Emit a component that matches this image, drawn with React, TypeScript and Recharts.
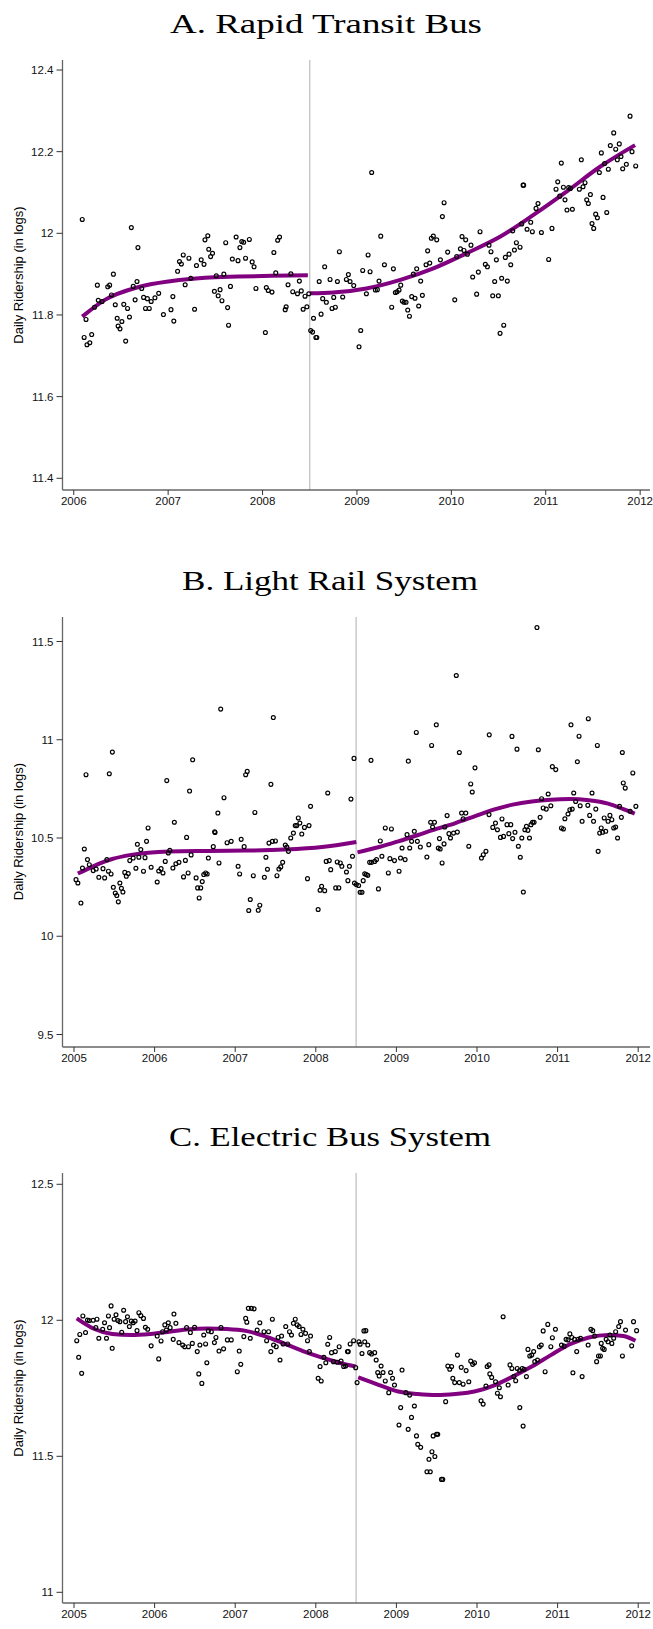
import React from 'react';
import { ComposedChart, XAxis, YAxis, Scatter, Line, ReferenceLine } from 'recharts';

// ---------- Panel A: Rapid Transit Bus ----------
const rapidTransitPoints: [number, number][] = [
  [2006.09,12.034],[2006.13,11.789],[2006.11,11.745],[2006.14,11.727],[2006.17,11.732],[2006.19,11.752],[2006.22,11.819],[2006.25,11.873],[2006.26,11.836],[2006.30,11.833],[2006.36,11.869],[2006.38,11.873],[2006.40,11.849],[2006.42,11.900],[2006.44,11.825],[2006.46,11.792],[2006.47,11.773],[2006.49,11.766],[2006.51,11.784],[2006.53,11.826],[2006.55,11.736],[2006.57,11.816],[2006.59,11.795],[2006.61,12.014],[2006.63,11.870],[2006.65,11.837],[2006.67,11.882],[2006.68,11.965],[2006.72,11.865],[2006.74,11.843],[2006.76,11.816],[2006.78,11.840],[2006.80,11.816],[2006.82,11.833],[2006.86,11.842],[2006.90,11.853],[2006.95,11.801],[2007.03,11.813],[2007.05,11.845],[2007.06,11.785],[2007.10,11.907],[2007.12,11.931],[2007.14,11.925],[2007.16,11.947],[2007.18,11.874],[2007.22,11.939],[2007.24,11.890],[2007.28,11.814],[2007.30,11.921],[2007.35,11.935],[2007.38,11.924],[2007.39,11.984],[2007.42,11.994],[2007.43,11.961],[2007.45,11.943],[2007.47,11.951],[2007.49,11.858],[2007.51,11.896],[2007.53,11.847],[2007.55,11.862],[2007.57,11.835],[2007.59,11.900],[2007.61,11.977],[2007.63,11.818],[2007.64,11.775],[2007.66,11.870],[2007.68,11.937],[2007.72,11.991],[2007.74,11.933],[2007.76,11.965],[2007.78,11.980],[2007.80,11.978],[2007.82,11.939],[2007.86,11.985],[2007.89,11.930],[2007.91,11.918],[2007.93,11.865],[2008.03,11.757],[2008.04,11.867],[2008.06,11.860],[2008.10,11.856],[2008.12,11.953],[2008.14,11.903],[2008.16,11.983],[2008.18,11.991],[2008.24,11.813],[2008.25,11.820],[2008.27,11.874],[2008.30,11.901],[2008.32,11.857],[2008.37,11.852],[2008.39,11.883],[2008.41,11.859],[2008.43,11.814],[2008.45,11.846],[2008.47,11.820],[2008.49,11.852],
  [2008.51,11.762],[2008.53,11.758],[2008.54,11.792],[2008.565,11.745],[2008.575,11.745],[2008.60,11.882],[2008.62,11.802],[2008.637,11.840],[2008.658,11.918],[2008.676,11.831],[2008.715,11.887],[2008.736,11.816],[2008.754,11.843],[2008.771,11.819],[2008.793,11.882],[2008.814,11.955],[2008.849,11.844],[2008.888,11.887],[2008.909,11.899],[2008.927,11.882],[2008.966,11.872],[2009.022,11.722],[2009.040,11.762],[2009.061,11.909],[2009.100,11.852],[2009.118,11.947],[2009.139,11.906],[2009.156,12.149],[2009.195,11.861],[2009.216,11.862],[2009.234,11.883],[2009.252,11.993],[2009.291,11.923],[2009.368,11.819],[2009.386,11.913],[2009.407,11.855],[2009.425,11.857],[2009.446,11.861],[2009.464,11.873],[2009.481,11.834],[2009.499,11.831],[2009.520,11.831],[2009.538,11.812],[2009.556,11.797],[2009.580,11.845],[2009.598,11.900],[2009.615,11.841],[2009.633,11.913],[2009.654,11.822],[2009.675,11.883],[2009.693,11.848],[2009.732,11.923],[2009.749,11.957],[2009.771,11.927],[2009.788,11.988],[2009.809,11.993],[2009.845,11.984],[2009.884,11.935],[2009.905,12.041],[2009.923,12.075],[2009.961,11.954],[2010.036,11.837],[2010.057,11.943],[2010.096,11.962],[2010.113,11.992],[2010.134,11.958],[2010.152,11.984],[2010.170,11.949],[2010.208,11.971],[2010.226,11.893],[2010.268,11.851],[2010.286,11.905],[2010.304,12.004],[2010.360,11.924],[2010.382,11.918],[2010.399,11.971],[2010.420,11.955],[2010.438,11.847],[2010.459,11.882],[2010.477,11.935],[2010.498,11.847],[2010.516,11.755],[2010.533,11.890],[2010.555,11.775],[2010.572,11.941],[2010.593,11.883],[2010.611,11.949],[2010.629,11.923],[2010.650,12.006],[2010.668,11.959],[2010.689,11.977],[2010.728,11.966],[2010.745,12.023],[2010.760,12.118],[2010.766,12.118],[2010.802,12.010],[2010.841,12.027],[2010.858,12.004],[2010.897,12.061],[2010.918,12.073],[2010.954,12.002],[2011.031,11.936],[2011.066,12.012],[2011.109,12.108],[2011.127,12.126],[2011.148,12.091],[2011.165,12.172],[2011.187,12.113],[2011.204,12.082],[2011.225,12.057],[2011.243,12.112],[2011.261,12.110],[2011.282,12.059],[2011.356,12.108],[2011.377,12.180],[2011.395,12.114],[2011.416,12.124],[2011.434,12.082],[2011.451,12.073],[2011.473,12.095],[2011.490,12.024],[2011.508,12.012],[2011.529,12.047],[2011.547,12.038],[2011.568,12.149],[2011.589,12.197],[2011.607,12.088],[2011.624,12.171],[2011.646,12.051],[2011.663,12.157],[2011.684,12.215],[2011.720,12.246],[2011.741,12.206],[2011.758,12.180],[2011.779,12.219],[2011.797,12.188],[2011.815,12.158],[2011.854,12.169],[2011.893,12.287],[2011.914,12.200],[2011.953,12.165],
];
const rapidTransitFitBefore: [number, number][] = [
  [2006.09,11.796],[2006.33,11.837],[2006.68,11.868],[2007.04,11.883],[2007.39,11.891],[2007.74,11.894],[2008.10,11.896],[2008.48,11.897],
];
const rapidTransitFitAfter: [number, number][] = [
  [2008.503,11.853],[2008.75,11.855],[2009.10,11.865],[2009.46,11.886],[2009.81,11.914],[2010.16,11.951],[2010.52,11.992],[2010.87,12.045],[2011.22,12.102],[2011.575,12.163],[2011.946,12.216],
];
const rapidTransitYTicks = [11.4, 11.6, 11.8, 12, 12.2, 12.4];
const rapidTransitXTicks = [2006, 2007, 2008, 2009, 2010, 2011, 2012];

// ---------- Panel B: Light Rail System ----------
const lightRailPoints: [number, number][] = [
  [2005.025,10.288],[2005.048,10.271],[2005.086,10.169],[2005.105,10.347],[2005.128,10.444],[2005.149,10.822],[2005.167,10.390],[2005.19,10.364],[2005.238,10.334],[2005.275,10.342],[2005.308,10.300],[2005.36,10.344],[2005.38,10.297],[2005.408,10.390],[2005.427,10.331],[2005.438,10.827],[2005.46,10.317],[2005.476,10.937],[2005.488,10.249],[2005.512,10.220],[2005.531,10.207],[2005.55,10.175],[2005.569,10.271],[2005.588,10.244],[2005.607,10.225],[2005.63,10.325],[2005.649,10.305],[2005.673,10.319],[2005.692,10.385],[2005.734,10.398],[2005.768,10.346],[2005.786,10.468],[2005.805,10.402],[2005.829,10.441],[2005.862,10.331],[2005.881,10.400],[2005.9,10.483],[2005.919,10.551],[2005.957,10.351],[2006.032,10.276],[2006.051,10.332],[2006.080,10.344],[2006.104,10.322],[2006.132,10.381],[2006.151,10.792],[2006.17,10.424],[2006.189,10.437],[2006.227,10.347],[2006.245,10.580],[2006.264,10.369],[2006.302,10.376],[2006.359,10.302],[2006.382,10.386],[2006.397,10.503],[2006.416,10.322],[2006.434,10.739],[2006.453,10.414],[2006.472,10.898],[2006.515,10.297],[2006.534,10.246],[2006.553,10.195],[2006.572,10.246],[2006.591,10.278],[2006.610,10.314],[2006.633,10.322],[2006.652,10.317],[2006.667,10.398],[2006.728,10.456],[2006.745,10.532],[2006.750,10.528],[2006.785,10.627],[2006.799,10.373],[2006.82,11.156],[2006.861,10.705],[2006.899,10.476],[2006.95,10.483],[2007.036,10.356],[2007.055,10.317],[2007.074,10.493],[2007.111,10.456],[2007.13,10.822],[2007.149,10.839],[2007.168,10.131],[2007.187,10.187],[2007.225,10.308],[2007.244,10.630],[2007.286,10.132],[2007.305,10.158],[2007.362,10.300],[2007.381,10.402],[2007.40,10.341],[2007.419,10.474],[2007.443,10.773],[2007.461,10.483],[2007.473,11.113],[2007.499,10.485],[2007.518,10.308],[2007.542,10.342],[2007.565,10.353],[2007.589,10.376],[2007.622,10.464],[2007.641,10.454],[2007.66,10.432],[2007.689,10.500],[2007.722,10.525],[2007.745,10.563],[2007.764,10.563],[2007.783,10.602],[2007.802,10.576],[2007.826,10.520],[2007.859,10.554],[2007.897,10.293],[2007.916,10.563],[2007.935,10.661],[2008.029,10.136],[2008.053,10.234],[2008.072,10.254],[2008.11,10.232],[2008.129,10.381],[2008.148,10.729],[2008.167,10.385],[2008.185,10.339],[2008.247,10.246],[2008.266,10.378],[2008.285,10.246],[2008.304,10.373],[2008.323,10.356],[2008.38,10.327],[2008.398,10.283],[2008.417,10.356],[2008.436,10.698],[2008.455,10.407],[2008.474,10.905],[2008.48,10.271],[2008.503,10.263],[2008.531,10.258],[2008.55,10.224],[2008.573,10.224],[2008.588,10.283],[2008.607,10.318],[2008.626,10.314],[2008.645,10.310],[2008.668,10.376],[2008.685,10.895],[2008.692,10.376],[2008.73,10.381],[2008.753,10.390],[2008.777,10.241],[2008.8,10.485],[2008.82,10.407],[2008.862,10.551],[2008.9,10.322],[2008.919,10.395],[2008.938,10.546],[2008.976,10.385],[2009.033,10.331],[2009.051,10.398],[2009.07,10.449],[2009.108,10.390],[2009.132,10.517],[2009.148,10.891],[2009.165,10.449],[2009.189,10.483],[2009.222,10.534],[2009.247,11.037],[2009.26,10.483],[2009.297,10.454],[2009.378,10.403],[2009.402,10.466],[2009.425,10.580],[2009.437,10.971],[2009.449,10.556],[2009.472,10.580],[2009.495,11.076],[2009.52,10.449],[2009.534,10.497],[2009.543,10.444],[2009.567,10.373],[2009.591,10.470],[2009.6,10.556],[2009.629,10.614],[2009.652,10.522],[2009.671,10.500],[2009.709,10.525],[2009.743,11.327],[2009.756,10.530],[2009.781,10.935],[2009.809,10.627],[2009.828,10.598],[2009.861,10.627],[2009.898,10.458],[2009.922,10.775],[2009.941,10.734],[2009.975,10.857],[2010.055,10.398],[2010.078,10.415],[2010.111,10.432],[2010.149,10.619],[2010.152,11.025],[2010.196,10.554],[2010.229,10.576],[2010.253,10.542],[2010.291,10.503],[2010.31,10.597],[2010.329,10.508],[2010.372,10.568],[2010.395,10.522],[2010.419,10.568],[2010.434,11.017],[2010.442,10.497],[2010.471,10.529],[2010.496,10.952],[2010.513,10.458],[2010.537,10.402],[2010.556,10.500],[2010.575,10.225],[2010.594,10.542],[2010.613,10.559],[2010.632,10.539],[2010.651,10.500],[2010.67,10.568],[2010.689,10.580],[2010.708,10.580],[2010.744,11.571],[2010.761,10.949],[2010.783,10.605],[2010.802,10.700],[2010.821,10.653],[2010.859,10.647],[2010.883,10.724],[2010.916,10.664],[2010.935,10.863],[2010.977,10.848],[2011.048,10.551],[2011.072,10.546],[2011.09,10.598],[2011.129,10.622],[2011.152,10.644],[2011.166,11.076],[2011.181,10.647],[2011.2,10.729],[2011.224,10.686],[2011.245,10.888],[2011.266,11.018],[2011.28,10.664],[2011.304,10.585],[2011.375,10.666],[2011.381,11.107],[2011.398,10.615],[2011.427,10.729],[2011.446,10.585],[2011.474,10.647],[2011.493,10.971],[2011.503,10.432],[2011.522,10.525],[2011.541,10.551],[2011.559,10.529],[2011.578,10.602],[2011.597,10.534],[2011.626,10.585],[2011.649,10.615],[2011.673,10.593],[2011.696,10.551],[2011.72,10.556],[2011.744,10.500],[2011.768,10.661],[2011.791,10.605],[2011.803,10.935],[2011.815,10.780],[2011.839,10.754],[2011.9,10.636],[2011.933,10.831],[2011.971,10.661],
];
const lightRailFitBefore: [number, number][] = [
  [2005.048,10.319],[2005.238,10.356],[2005.474,10.393],[2005.71,10.414],[2006.184,10.431],[2006.657,10.434],[2007.13,10.436],[2007.603,10.441],[2008.077,10.454],[2008.503,10.480],
];
const lightRailFitAfter: [number, number][] = [
  [2008.517,10.427],[2008.786,10.454],[2009.023,10.483],[2009.26,10.514],[2009.496,10.546],[2009.733,10.576],[2009.969,10.610],[2010.206,10.644],[2010.443,10.670],[2010.679,10.686],[2010.916,10.695],[2011.152,10.698],[2011.389,10.692],[2011.626,10.675],[2011.815,10.647],[2011.957,10.624],
];
const lightRailYTicks = [9.5, 10, 10.5, 11, 11.5];
const sevenYearTicks = [2005, 2006, 2007, 2008, 2009, 2010, 2011, 2012];

// ---------- Panel C: Electric Bus System ----------
const electricBusPoints: [number, number][] = [
  [2005.034,11.925],[2005.058,11.864],[2005.072,11.948],[2005.095,11.805],[2005.11,12.016],[2005.143,11.955],[2005.167,12.001],[2005.19,11.999],[2005.238,12.0],[2005.271,11.973],[2005.285,12.004],[2005.308,11.934],[2005.356,11.967],[2005.379,11.991],[2005.403,11.934],[2005.427,12.016],[2005.441,11.973],[2005.46,12.053],[2005.474,11.897],[2005.498,12.004],[2005.521,12.02],[2005.545,11.999],[2005.569,11.995],[2005.592,11.956],[2005.616,12.037],[2005.64,11.995],[2005.663,12.013],[2005.687,11.977],[2005.711,11.997],[2005.734,11.991],[2005.758,11.997],[2005.782,11.962],[2005.805,12.028],[2005.829,12.017],[2005.862,12.007],[2005.886,11.974],[2005.914,11.967],[2005.957,11.906],[2006.032,11.942],[2006.051,11.858],[2006.08,11.924],[2006.099,11.958],[2006.127,11.983],[2006.146,11.964],[2006.17,11.991],[2006.193,11.973],[2006.231,11.93],[2006.24,12.023],[2006.264,11.989],[2006.302,11.918],[2006.349,11.909],[2006.373,11.903],[2006.397,11.973],[2006.42,11.903],[2006.444,11.955],[2006.468,11.915],[2006.496,11.974],[2006.529,11.885],[2006.548,11.803],[2006.562,11.909],[2006.586,11.768],[2006.61,11.946],[2006.633,11.913],[2006.648,11.844],[2006.667,11.961],[2006.704,11.958],[2006.742,11.918],[2006.761,11.937],[2006.799,11.887],[2006.823,11.973],[2006.856,11.895],[2006.903,11.928],[2006.951,11.928],[2007.026,11.811],[2007.05,11.887],[2007.069,11.838],[2007.107,11.94],[2007.13,12.007],[2007.144,11.993],[2007.163,12.044],[2007.201,12.044],[2007.234,12.042],[2007.187,11.934],[2007.272,11.964],[2007.305,11.991],[2007.357,11.958],[2007.390,11.925],[2007.414,11.958],[2007.442,11.885],[2007.461,12.004],[2007.476,11.909],[2007.509,11.903],[2007.532,11.937],[2007.556,11.854],[2007.575,11.942],[2007.594,11.913],[2007.627,11.977],[2007.651,11.913],[2007.674,11.958],[2007.698,11.946],[2007.722,11.989],[2007.745,12.004],[2007.769,11.983],[2007.793,11.977],[2007.816,11.948],[2007.84,11.967],[2007.873,11.952],[2007.897,11.925],[2007.92,11.885],[2007.935,11.942],[2008.029,11.787],[2008.067,11.777],[2008.053,11.83],[2008.1,11.864],[2008.124,11.844],[2008.148,11.912],[2008.172,11.937],[2008.195,11.881],[2008.219,11.848],[2008.242,11.885],[2008.266,11.846],[2008.29,11.903],[2008.313,11.85],[2008.346,11.83],[2008.37,11.832],[2008.393,11.885],[2008.403,11.885],[2008.426,11.913],[2008.469,11.925],[2008.495,11.826],
  [2008.512,11.771],[2008.535,11.921],[2008.55,11.912],[2008.573,11.878],[2008.597,11.961],[2008.621,11.962],[2008.607,11.921],[2008.645,11.909],[2008.668,11.881],[2008.692,11.876],[2008.73,11.881],[2008.749,11.854],[2008.768,11.808],[2008.786,11.795],[2008.81,11.832],[2008.834,11.808],[2008.862,11.777],[2008.905,11.734],[2008.928,11.808],[2008.952,11.787],[2008.976,11.762],[2009.032,11.615],[2009.053,11.679],[2009.07,11.817],[2009.118,11.734],[2009.146,11.599],[2009.165,11.725],[2009.187,11.643],[2009.223,11.685],[2009.249,11.575],[2009.265,11.544],[2009.301,11.533],[2009.379,11.443],[2009.42,11.443],[2009.404,11.489],[2009.441,11.517],[2009.456,11.575],[2009.477,11.499],[2009.498,11.581],[2009.513,11.581],[2009.559,11.415],[2009.575,11.415],[2009.611,11.701],[2009.638,11.832],[2009.662,11.82],[2009.685,11.83],[2009.7,11.787],[2009.723,11.771],[2009.757,11.872],[2009.78,11.771],[2009.804,11.827],[2009.828,11.765],[2009.865,11.815],[2009.898,11.774],[2009.922,11.85],[2009.946,11.838],[2009.969,11.844],[2010.05,11.704],[2010.076,11.692],[2010.111,11.758],[2010.126,11.83],[2010.149,11.836],[2010.159,11.803],[2010.182,11.79],[2010.23,11.774],[2010.253,11.732],[2010.277,11.752],[2010.291,11.719],[2010.324,12.013],[2010.386,11.762],[2010.409,11.836],[2010.433,11.823],[2010.457,11.793],[2010.48,11.778],[2010.499,11.823],[2010.528,11.815],[2010.531,11.679],[2010.561,11.823],[2010.572,11.611],[2010.584,11.82],[2010.613,11.793],[2010.632,11.893],[2010.655,11.869],[2010.679,11.872],[2010.703,11.885],[2010.717,11.848],[2010.75,11.854],[2010.774,11.903],[2010.797,11.909],[2010.821,11.961],[2010.845,11.811],[2010.878,11.985],[2010.916,11.903],[2010.935,11.936],[2010.973,11.967],[2011.048,11.909],[2011.081,11.905],[2011.105,11.93],[2011.129,11.928],[2011.152,11.95],[2011.176,11.937],[2011.19,11.807],[2011.209,11.93],[2011.237,11.885],[2011.256,11.93],[2011.285,11.934],[2011.304,11.793],[2011.379,11.909],[2011.413,11.967],[2011.436,11.962],[2011.46,11.942],[2011.484,11.848],[2011.507,11.869],[2011.531,11.869],[2011.541,11.915],[2011.559,11.897],[2011.578,11.893],[2011.602,11.93],[2011.626,11.921],[2011.649,11.946],[2011.673,11.915],[2011.696,11.934],[2011.72,11.958],[2011.758,11.977],[2011.78,11.995],[2011.804,11.869],[2011.843,11.964],[2011.919,11.906],[2011.942,11.995],[2011.98,11.962],
];
const electricBusFitBefore: [number, number][] = [
  [2005.034,12.007],[2005.238,11.97],[2005.474,11.95],[2005.711,11.946],[2005.947,11.95],[2006.184,11.958],[2006.42,11.967],[2006.657,11.97],[2006.894,11.968],[2007.13,11.961],[2007.367,11.942],[2007.603,11.915],[2007.84,11.887],[2008.077,11.863],[2008.313,11.842],[2008.493,11.83],
];
const electricBusFitAfter: [number, number][] = [
  [2008.526,11.79],[2008.786,11.762],[2009.023,11.738],[2009.26,11.729],[2009.496,11.725],[2009.733,11.729],[2009.969,11.738],[2010.206,11.76],[2010.443,11.793],[2010.679,11.83],[2010.916,11.872],[2011.152,11.912],[2011.389,11.937],[2011.626,11.946],[2011.815,11.942],[2011.966,11.925],
];
const electricBusYTicks = [11, 11.5, 12, 12.5];

const titles = ['A. Rapid Transit Bus', 'B. Light Rail System', 'C. Electric Bus System'];
const yAxisTitle = 'Daily Ridership (in logs)';
const policyYear = 2008.5;

const PURPLE = '#800080';
const SANS = '"Liberation Sans", Arial, Helvetica, sans-serif';
const SERIF = '"Liberation Serif", "Times New Roman", serif';

const HollowDot = (props: any) => {
  const { cx, cy } = props;
  if (cx == null || cy == null) return <g />;
  return <circle cx={cx} cy={cy} r={1.95} fill="none" stroke="#000" strokeWidth={1.2} />;
};

type PanelProps = {
  top: number;
  points: [number, number][];
  fitBefore: [number, number][];
  fitAfter: [number, number][];
  xDomain: [number, number];
  xTicks: number[];
  yDomain: [number, number];
  yTicks: number[];
};

function Panel({ top, points, fitBefore, fitAfter, xDomain, xTicks, yDomain, yTicks }: PanelProps) {
  const pts = points.map(([x, y]) => ({ x, y }));
  const fb = fitBefore.map(([x, y]) => ({ x, y }));
  const fa = fitAfter.map(([x, y]) => ({ x, y }));
  const tickStyle = { fill: '#111', fontSize: 11.5, fontFamily: SANS };
  return (
    <div style={{ position: 'absolute', left: 0, top, width: 653, height: 530 }}>
      <ComposedChart width={653} height={530} margin={{ top: 60, right: 3, bottom: 10, left: 0 }}>
        <XAxis
          type="number"
          dataKey="x"
          domain={xDomain}
          ticks={xTicks}
          allowDataOverflow
          interval={0}
          height={30}
          tickSize={5}
          tickMargin={2}
          tick={tickStyle}
          axisLine={{ stroke: '#666', strokeWidth: 1.3 }}
          tickLine={{ stroke: '#333', strokeWidth: 1 }}
          tickFormatter={(v: number) => String(v)}
        />
        <YAxis
          type="number"
          dataKey="y"
          domain={yDomain}
          ticks={yTicks}
          allowDataOverflow
          interval={0}
          width={62.5}
          tickSize={6}
          tickMargin={3}
          tick={tickStyle}
          axisLine={{ stroke: '#666', strokeWidth: 1.3 }}
          tickLine={{ stroke: '#333', strokeWidth: 1 }}
          tickFormatter={(v: number) => String(v)}
        />
        <ReferenceLine x={policyYear} stroke="#bdbdbd" strokeWidth={1.2} />
        <Scatter data={pts} isAnimationActive={false} shape={HollowDot} />
        <Line data={fb} dataKey="y" type="monotone" stroke={PURPLE} strokeWidth={4} dot={false} activeDot={false} isAnimationActive={false} />
        <Line data={fa} dataKey="y" type="monotone" stroke={PURPLE} strokeWidth={4} dot={false} activeDot={false} isAnimationActive={false} />
      </ComposedChart>
    </div>
  );
}

const panelTops = [0, 556.5, 1113];
const titleBaselines = [33.3, 589.8, 1146.3];
const titleCenters = [326, 330, 330];
const titleWidths = [312, 296, 322];
const labelCenters = [275, 831.5, 1388];

export default function App() {
  return (
    <div style={{ position: 'absolute', left: 0, top: 0, width: 653, height: 1629, background: '#fff', overflow: 'hidden' }}>
      <Panel
        top={panelTops[0]}
        points={rapidTransitPoints}
        fitBefore={rapidTransitFitBefore}
        fitAfter={rapidTransitFitAfter}
        xDomain={[2005.8808, 2012.1044]}
        xTicks={rapidTransitXTicks}
        yDomain={[11.3713, 12.4245]}
        yTicks={rapidTransitYTicks}
      />
      <Panel
        top={panelTops[1]}
        points={lightRailPoints}
        fitBefore={lightRailFitBefore}
        fitAfter={lightRailFitAfter}
        xDomain={[2004.8573, 2012.1463]}
        xTicks={sevenYearTicks}
        yDomain={[9.4364, 11.6246]}
        yTicks={lightRailYTicks}
      />
      <Panel
        top={panelTops[2]}
        points={electricBusPoints}
        fitBefore={electricBusFitBefore}
        fitAfter={electricBusFitAfter}
        xDomain={[2004.8573, 2012.1463]}
        xTicks={sevenYearTicks}
        yDomain={[10.9607, 12.5415]}
        yTicks={electricBusYTicks}
      />
      <svg width={653} height={1629} style={{ position: 'absolute', left: 0, top: 0, pointerEvents: 'none' }}>
        {titles.map((t, i) => (
          <text
            key={t}
            x={titleCenters[i]}
            y={titleBaselines[i]}
            textAnchor="middle"
            fontFamily={SERIF}
            fontSize={27}
            fill="#000"
            textLength={titleWidths[i]}
            lengthAdjust="spacingAndGlyphs"
          >
            {t}
          </text>
        ))}
        {labelCenters.map((c, i) => (
          <text
            key={i}
            transform={`translate(18, ${c}) rotate(-90)`}
            textAnchor="middle"
            dominantBaseline="central"
            fontFamily={SANS}
            fontSize={13}
            fill="#000"
          >
            {yAxisTitle}
          </text>
        ))}
      </svg>
    </div>
  );
}
